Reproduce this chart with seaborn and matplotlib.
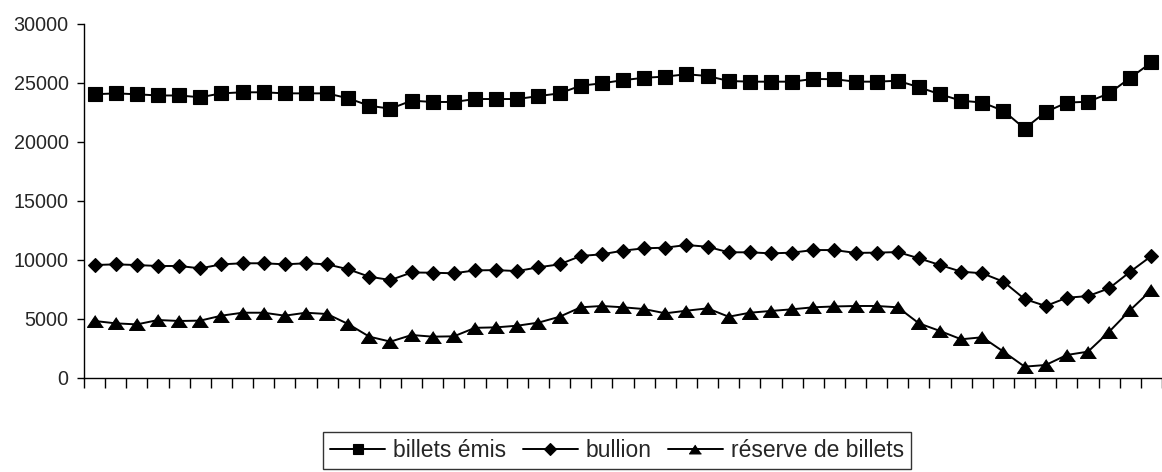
import numpy as np
import pandas as pd
import matplotlib
matplotlib.use("Agg")
import matplotlib.pyplot as plt
import seaborn as sns

# periodes (pas d'etiquettes sur l'axe des x dans l'original)
periodes = list(range(51))

billets_emis = [24000, 24080, 24000, 23900, 23900, 23750, 24080, 24170, 24170, 24080, 24080, 24080,
                23660, 23030, 22780, 23460, 23350, 23350,
                23600, 23600, 23600, 23850, 24080,
                24730, 24930, 25200, 25400, 25500, 25700, 25550,
                25130, 25070, 25070, 25070, 25300, 25280,
                25070, 25070, 25150, 24600, 24000, 23460, 23300, 22600,
                21100, 22500, 23300, 23370, 24080, 25400, 26700]

bullion = [9530, 9590, 9530, 9450, 9450, 9250, 9590, 9680, 9680, 9590, 9680, 9590,
           9170, 8540, 8260, 8900, 8880, 8830,
           9080, 9100, 9020, 9340, 9590,
           10300, 10440, 10750, 10950, 11000, 11230, 11080,
           10610, 10610, 10520, 10580, 10800, 10800,
           10560, 10580, 10630, 10100, 9530, 8970, 8830, 8120,
           6650, 6060, 6760, 6900, 7560, 8970, 10300]

reserve = [4790, 4590, 4500, 4870, 4790, 4820, 5240, 5490, 5490, 5240, 5490, 5380,
           4530, 3460, 3040, 3600, 3460, 3490,
           4210, 4250, 4390, 4650, 5150,
           5950, 6060, 5950, 5800, 5440, 5660, 5860,
           5150, 5490, 5640, 5780, 5950, 6020,
           6060, 6060, 5950, 4590, 3940, 3240, 3410, 2190,
           920, 1060, 1910, 2190, 3880, 5720, 7420]

y_ticks = [0, 5000, 10000, 15000, 20000, 25000, 30000]

df = pd.DataFrame({"periode": periodes, "billets émis": billets_emis,
                   "bullion": bullion, "réserve de billets": reserve})

sns.set_style("white")
plt.rcParams['font.family'] = ['Liberation Sans', 'DejaVu Sans']

fig = plt.figure(figsize=(11.62, 4.72), dpi=100)
ax = fig.add_axes([84 / 1162, 94.5 / 472, 1 - 84 / 1162, 354 / 472])

triangle = [(0, 1), (-1.35, -1), (1.35, -1)]
styles = {"billets émis": dict(marker="s", markersize=9.5),
          "bullion": dict(marker="D", markersize=7.5),
          "réserve de billets": dict(marker=triangle, markersize=11.5)}

for name, st in styles.items():
    sns.lineplot(data=df, x="periode", y=name, ax=ax, color="black", linewidth=1.4,
                 markeredgecolor="black", markeredgewidth=0.8, label=name, **st)

ax.set_xlim(-0.5, 50.19)
ax.set_ylim(0, 30000)
ax.set_yticks(y_ticks)
ax.set_yticklabels([str(v) for v in y_ticks], fontsize=14.2)
ax.set_xticks(np.arange(-0.5, 51, 1))
ax.set_xticklabels([])
ax.set_xlabel("")
ax.set_ylabel("")
ax.tick_params(axis="x", direction="out", length=7, width=1, color="black", bottom=True)
ax.tick_params(axis="y", direction="out", length=5, width=1, color="black", left=True, pad=6)
for s in ["top", "right"]:
    ax.spines[s].set_visible(False)
for s in ["left", "bottom"]:
    ax.spines[s].set_color("black")
    ax.spines[s].set_linewidth(1)

ax.get_legend().remove()
handles, labels = ax.get_legend_handles_labels()
leg = fig.legend(handles, labels, loc="center", bbox_to_anchor=(0.531, 0.0456), ncol=3,
                 fontsize=16.5, frameon=True, fancybox=False, shadow=False, markerscale=0.75,
                 handlelength=2.4, handletextpad=0.35, columnspacing=0.7,
                 borderpad=0.3, borderaxespad=0)
leg.get_frame().set_edgecolor("black")
leg.get_frame().set_linewidth(1)

fig.savefig("out.png", dpi=100)
